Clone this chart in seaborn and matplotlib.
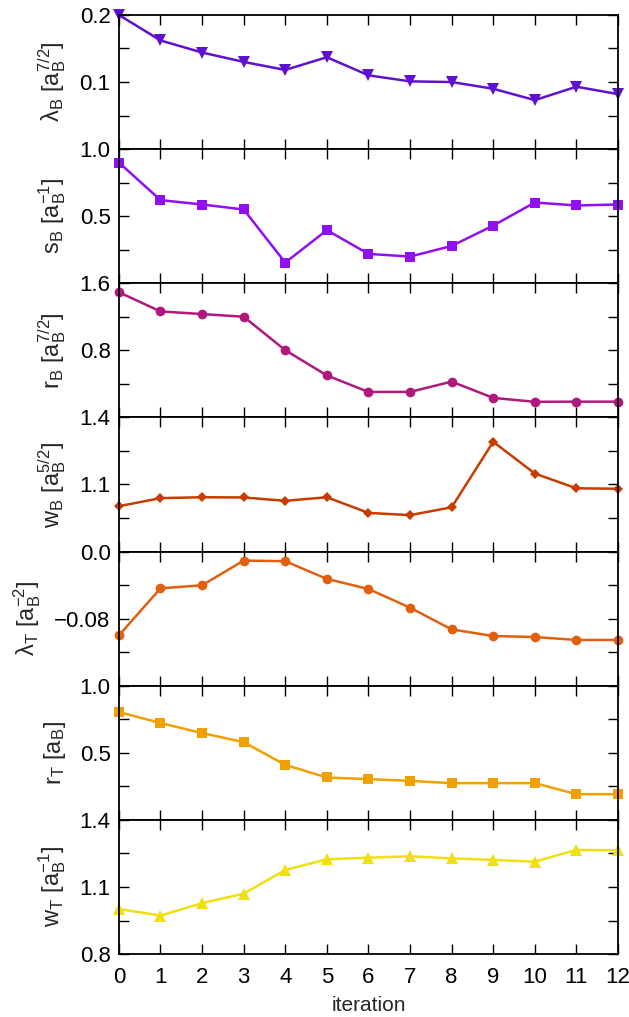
import matplotlib
matplotlib.use("Agg")
import matplotlib.pyplot as plt
import numpy as np
import seaborn as sns

sns.set_style("ticks")
plt.rcParams['font.family'] = ['Liberation Sans', 'DejaVu Sans']
plt.rcParams['mathtext.fontset'] = 'custom'
plt.rcParams['mathtext.rm'] = 'Liberation Sans'
plt.rcParams['mathtext.it'] = 'Liberation Sans'
plt.rcParams['mathtext.default'] = 'regular'

iteration = list(range(13))

lambda_B = [0.200, 0.162, 0.144, 0.130, 0.118, 0.137, 0.110, 0.101, 0.100, 0.090, 0.073, 0.093, 0.082]
s_B = [0.90, 0.62, 0.587, 0.55, 0.154, 0.396, 0.219, 0.199, 0.278, 0.43, 0.602, 0.58, 0.587]
r_B = [1.493, 1.264, 1.233, 1.201, 0.802, 0.501, 0.304, 0.304, 0.427, 0.233, 0.186, 0.188, 0.188]
w_B = [1.003, 1.039, 1.043, 1.042, 1.027, 1.043, 0.973, 0.963, 0.998, 1.291, 1.149, 1.083, 1.081]
lambda_T = [-0.100, -0.0438, -0.0402, -0.0107, -0.0115, -0.0326, -0.0446, -0.0669, -0.0928, -0.1007, -0.1019, -0.1054, -0.1054]
r_T = [0.804, 0.722, 0.647, 0.580, 0.410, 0.316, 0.304, 0.291, 0.274, 0.274, 0.274, 0.192, 0.192]
w_T = [1.0015, 0.972, 1.028, 1.070, 1.176, 1.224, 1.231, 1.237, 1.228, 1.221, 1.213, 1.266, 1.264]

series = [lambda_B, s_B, r_B, w_B, lambda_T, r_T, w_T]
ylabels = [r'$\lambda_B$ [a$_B^{7/2}$]', r's$_B$ [a$_B^{-1}$]', r'r$_B$ [a$_B^{7/2}$]',
           r'w$_B$ [a$_B^{5/2}$]', r'$\lambda_T$ [a$_B^{-2}$]', r'r$_T$ [a$_B$]', r'w$_T$ [a$_B^{-1}$]']
ylims = [(0.0, 0.2), (0.0, 1.0), (0.0, 1.6), (0.8, 1.4), (-0.16, 0.0), (0.0, 1.0), (0.8, 1.4)]
ticklabels = [['0.0', '0.1', '0.2'], ['0.0', '0.5', '1.0'], ['0.0', '0.8', '1.6'],
              ['0.8', '1.1', '1.4'], ['−0.16', '−0.08', '0.0'], ['0.0', '0.5', '1.0'],
              ['0.8', '1.1', '1.4']]
colors = ['#6010d0', '#9010f0', '#b0187c', '#c83c00', '#e06010', '#f0a000', '#f0e010']
markers = ['v', 's', 'o', 'D', 'o', 's', '^']
msizes = [9, 7.5, 7, 5.5, 7, 7.5, 9]

fig, axes = plt.subplots(7, 1, figsize=(6.29, 10.17), dpi=100, sharex=True)
fig.subplots_adjust(left=0.189, right=0.9825, top=0.9853, bottom=0.0619, hspace=0)

for i, ax in enumerate(axes):
    sns.lineplot(x=iteration, y=series[i], ax=ax, color=colors[i], marker=markers[i],
                 markersize=msizes[i], markeredgewidth=0, linewidth=1.8, clip_on=False)
    lo, hi = ylims[i]
    ax.set_xlim(0, 12)
    ax.set_ylim(lo, hi)
    yt = np.linspace(lo, hi, 5)
    ax.set_yticks(yt)
    labs = [ticklabels[i][0], '', ticklabels[i][1], '', ticklabels[i][2]]
    if i < 6:
        labs[0] = ''
    ax.set_yticklabels(labs)
    ax.set_xticks(iteration)
    ax.tick_params(direction='in', length=7, width=1, top=True, right=True,
                   labelsize=16, colors='black', pad=6)
    ax.tick_params(axis='x', pad=9)
    ax.set_ylabel(ylabels[i], fontsize=17, labelpad=8)
    for sp in ax.spines.values():
        sp.set_linewidth(1.3)
        sp.set_color('black')
        sp.set_zorder(3)

axes[-1].set_xlabel('iteration', fontsize=15, labelpad=6)

fig.savefig('out.png', dpi=100)
